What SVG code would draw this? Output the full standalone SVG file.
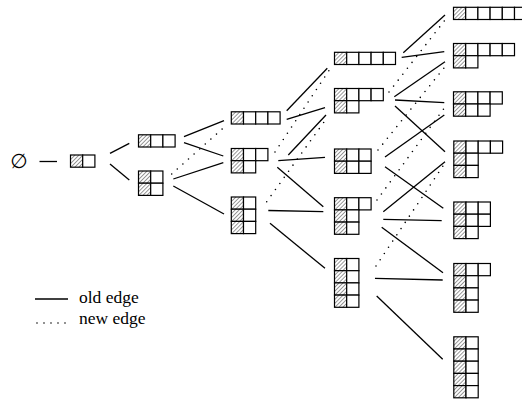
<svg xmlns="http://www.w3.org/2000/svg" xmlns:xlink="http://www.w3.org/1999/xlink" width="522" height="401" viewBox="0 0 522 401">
<style>
.w{fill:#fff;stroke:#000;stroke-width:1.2}
.h{fill:url(#hatch);stroke:#000;stroke-width:1.2}
.old{stroke:#000;stroke-width:1.3;fill:none}
.new{stroke:#000;stroke-width:1.6;fill:none;stroke-dasharray:0 7.5;stroke-linecap:round}
text{font-family:"Liberation Serif","DejaVu Serif",serif;fill:#000}
</style>
<defs>
<pattern id="hatch" patternUnits="userSpaceOnUse" width="2.8" height="2.8" patternTransform="rotate(45)">
<rect width="2.8" height="2.8" fill="#fff"/>
<line x1="0" y1="0" x2="0" y2="2.8" stroke="#000" stroke-width="0.8"/>
</pattern>
<rect id="cw" class="w" width="12.2" height="12.2"/>
<rect id="ch" class="h" width="12.2" height="12.2"/>
</defs>
<rect width="522" height="401" fill="#fff"/>
<g id="edges">
<line class="old" x1="39.5" y1="161.5" x2="57" y2="161.5"/>
<line class="old" x1="110" y1="153.3" x2="129.3" y2="143.3"/>
<line class="old" x1="110" y1="164" x2="129.3" y2="180"/>
<line class="old" x1="184" y1="136.7" x2="224" y2="120.7"/>
<line class="old" x1="184" y1="142.7" x2="223.3" y2="156"/>
<line class="old" x1="173.3" y1="179" x2="223.3" y2="162.7"/>
<line class="old" x1="173.3" y1="186" x2="224" y2="214"/>
<line class="old" x1="286.7" y1="110.7" x2="327.3" y2="68.3"/>
<line class="old" x1="286.7" y1="119.3" x2="325" y2="107.7"/>
<line class="old" x1="288.3" y1="155" x2="326" y2="115"/>
<line class="old" x1="278.3" y1="160.7" x2="325" y2="157.3"/>
<line class="old" x1="277.3" y1="167.3" x2="323.3" y2="206.7"/>
<line class="old" x1="268.3" y1="210.5" x2="323.3" y2="211.7"/>
<line class="old" x1="270" y1="223.3" x2="325" y2="268.3"/>
<line class="old" x1="403.3" y1="52.7" x2="445" y2="15"/>
<line class="old" x1="401.7" y1="57.3" x2="444.3" y2="51.7"/>
<line class="old" x1="394.3" y1="96.7" x2="445" y2="61.7"/>
<line class="old" x1="395" y1="100" x2="444.3" y2="102.7"/>
<line class="old" x1="395" y1="106" x2="445" y2="151.7"/>
<line class="old" x1="385" y1="157" x2="444.3" y2="115"/>
<line class="old" x1="385" y1="166.7" x2="443.3" y2="208.3"/>
<line class="old" x1="383.3" y1="211.7" x2="445" y2="161.7"/>
<line class="old" x1="383.3" y1="219.3" x2="441.7" y2="220.7"/>
<line class="old" x1="381.7" y1="227.3" x2="443" y2="272.7"/>
<line class="old" x1="375" y1="278.3" x2="442.7" y2="280"/>
<line class="old" x1="376.7" y1="296" x2="442.7" y2="359.3"/>
<line class="new" x1="171.7" y1="174" x2="226.7" y2="125"/>
<line class="new" x1="275" y1="152" x2="329.3" y2="70"/>
<line class="new" x1="266.7" y1="201.7" x2="326.7" y2="118.3"/>
<line class="new" x1="389" y1="92" x2="445" y2="20"/>
<line class="new" x1="378" y1="150" x2="445" y2="66.7"/>
<line class="new" x1="377" y1="200" x2="444.3" y2="108"/>
<line class="new" x1="376" y1="266" x2="445" y2="163"/>
</g>
<g id="empty"><text x="19" y="167.5" font-size="20" text-anchor="middle" style="font-family:'DejaVu Serif','DejaVu Sans',serif">∅</text></g>
<g id="n1" transform="translate(70.5,155)"><use href="#ch"/><use href="#cw" x="12.2"/></g>
<g id="n2a" transform="translate(138.5,134.8)"><use href="#ch"/><use href="#cw" x="12.2"/><use href="#cw" x="24.4"/></g>
<g id="n2b" transform="translate(138.5,171)"><use href="#ch"/><use href="#cw" x="12.2"/><use href="#ch" y="12.2"/><use href="#cw" x="12.2" y="12.2"/></g>
<g id="n3a" transform="translate(231.3,111.8)"><use href="#ch"/><use href="#cw" x="12.2"/><use href="#cw" x="24.4"/><use href="#cw" x="36.6"/></g>
<g id="n3b" transform="translate(231.3,148.5)"><use href="#ch"/><use href="#cw" x="12.2"/><use href="#cw" x="24.4"/><use href="#ch" y="12.2"/><use href="#cw" x="12.2" y="12.2"/></g>
<g id="n3c" transform="translate(231.3,197)"><use href="#ch"/><use href="#cw" x="12.2"/><use href="#ch" y="12.2"/><use href="#cw" x="12.2" y="12.2"/><use href="#ch" y="24.4"/><use href="#cw" x="12.2" y="24.4"/></g>
<g id="n4a" transform="translate(334.5,52.3)"><use href="#ch"/><use href="#cw" x="12.2"/><use href="#cw" x="24.4"/><use href="#cw" x="36.6"/><use href="#cw" x="48.8"/></g>
<g id="n4b" transform="translate(334.5,88.5)"><use href="#ch"/><use href="#cw" x="12.2"/><use href="#cw" x="24.4"/><use href="#cw" x="36.6"/><use href="#ch" y="12.2"/><use href="#cw" x="12.2" y="12.2"/></g>
<g id="n4c" transform="translate(334.5,149)"><use href="#ch"/><use href="#cw" x="12.2"/><use href="#cw" x="24.4"/><use href="#ch" y="12.2"/><use href="#cw" x="12.2" y="12.2"/><use href="#cw" x="24.4" y="12.2"/></g>
<g id="n4d" transform="translate(334.5,197.7)"><use href="#ch"/><use href="#cw" x="12.2"/><use href="#cw" x="24.4"/><use href="#ch" y="12.2"/><use href="#cw" x="12.2" y="12.2"/><use href="#ch" y="24.4"/><use href="#cw" x="12.2" y="24.4"/></g>
<g id="n4e" transform="translate(334.5,258.5)"><use href="#ch"/><use href="#cw" x="12.2"/><use href="#ch" y="12.2"/><use href="#cw" x="12.2" y="12.2"/><use href="#ch" y="24.4"/><use href="#cw" x="12.2" y="24.4"/><use href="#ch" y="36.6"/><use href="#cw" x="12.2" y="36.6"/></g>
<g id="n5a" transform="translate(453.5,7.3)"><use href="#ch"/><use href="#cw" x="12.2"/><use href="#cw" x="24.4"/><use href="#cw" x="36.6"/><use href="#cw" x="48.8"/><use href="#cw" x="61"/></g>
<g id="n5b" transform="translate(453.5,43.5)"><use href="#ch"/><use href="#cw" x="12.2"/><use href="#cw" x="24.4"/><use href="#cw" x="36.6"/><use href="#cw" x="48.8"/><use href="#ch" y="12.2"/><use href="#cw" x="12.2" y="12.2"/></g>
<g id="n5c" transform="translate(453.5,91.8)"><use href="#ch"/><use href="#cw" x="12.2"/><use href="#cw" x="24.4"/><use href="#cw" x="36.6"/><use href="#ch" y="12.2"/><use href="#cw" x="12.2" y="12.2"/><use href="#cw" x="24.4" y="12.2"/></g>
<g id="n5d" transform="translate(453.8,141)"><use href="#ch"/><use href="#cw" x="12.2"/><use href="#cw" x="24.4"/><use href="#cw" x="36.6"/><use href="#ch" y="12.2"/><use href="#cw" x="12.2" y="12.2"/><use href="#ch" y="24.4"/><use href="#cw" x="12.2" y="24.4"/></g>
<g id="n5e" transform="translate(453.8,202)"><use href="#ch"/><use href="#cw" x="12.2"/><use href="#cw" x="24.4"/><use href="#ch" y="12.2"/><use href="#cw" x="12.2" y="12.2"/><use href="#cw" x="24.4" y="12.2"/><use href="#ch" y="24.4"/><use href="#cw" x="12.2" y="24.4"/></g>
<g id="n5f" transform="translate(453.8,263.5)"><use href="#ch"/><use href="#cw" x="12.2"/><use href="#cw" x="24.4"/><use href="#ch" y="12.2"/><use href="#cw" x="12.2" y="12.2"/><use href="#ch" y="24.4"/><use href="#cw" x="12.2" y="24.4"/><use href="#ch" y="36.6"/><use href="#cw" x="12.2" y="36.6"/></g>
<g id="n5g" transform="translate(453.8,336.8)"><use href="#ch"/><use href="#cw" x="12.2"/><use href="#ch" y="12.2"/><use href="#cw" x="12.2" y="12.2"/><use href="#ch" y="24.4"/><use href="#cw" x="12.2" y="24.4"/><use href="#ch" y="36.6"/><use href="#cw" x="12.2" y="36.6"/><use href="#ch" y="48.8"/><use href="#cw" x="12.2" y="48.8"/></g>
<g id="legend">
<line class="old" x1="35" y1="299" x2="68" y2="299"/>
<line class="new" x1="37" y1="323" x2="68" y2="323" style="stroke-dasharray:0 7"/>
<text x="79" y="303" font-size="17.5">old edge</text>
<text x="79" y="323.5" font-size="17.5">new edge</text>
</g>
</svg>
